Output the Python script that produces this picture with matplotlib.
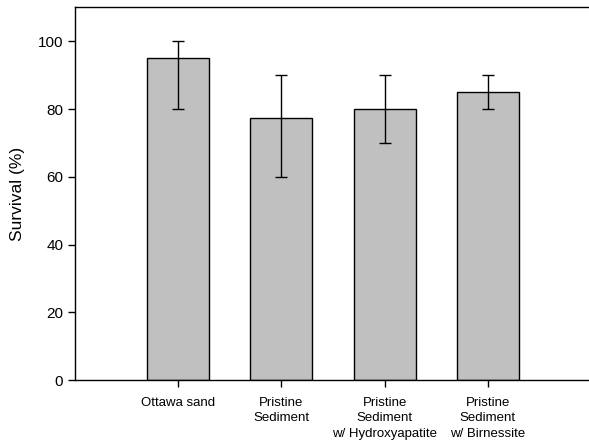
import numpy as np
from matplotlib import pyplot as plt

# survival per treatment, with the low / high ends of the error bars
treatments = ['Ottawa sand', 'Pristine\nSediment',
              'Pristine\nSediment\nw/ Hydroxyapatite',
              'Pristine\nSediment\nw/ Birnessite']
survival = [95, 77.5, 80, 85]
err_low = [80, 60, 70, 80]
err_high = [100, 90, 90, 90]

plt.rcParams['font.family'] = ['Arial', 'Liberation Sans', 'DejaVu Sans']

fig = plt.figure(figsize=(5.89, 4.41), dpi=100)
ax = fig.add_axes([0.1273, 0.1383, 0.8727, 0.8447])

x = np.arange(len(treatments))
vals = np.array(survival)
yerr = [vals - np.array(err_low), np.array(err_high) - vals]

ax.bar(x, vals, width=0.6, color='#c0c0c0', edgecolor='black', linewidth=1.0,
       zorder=2)
ax.errorbar(x, vals, yerr=yerr, fmt='none', ecolor='black', elinewidth=1.0,
            capsize=4.5, capthick=1.0, zorder=3)

ax.set_xlim(-1.0, 3.98)
ax.set_ylim(0, 110)
ax.set_yticks(np.arange(0, 101, 20))
ax.set_xticks(x)
ax.set_xticklabels(treatments, fontsize=9.5, linespacing=1.4)
ax.tick_params(axis='y', labelsize=11, length=5, width=1, direction='out')
ax.tick_params(axis='x', length=5, width=1, direction='out', pad=7)
ax.set_ylabel('Survival (%)', fontsize=12.5, labelpad=9)

ax.spines['right'].set_visible(False)
for s in ('left', 'bottom', 'top'):
    ax.spines[s].set_linewidth(1.0)

fig.savefig('out.png', dpi=100)
